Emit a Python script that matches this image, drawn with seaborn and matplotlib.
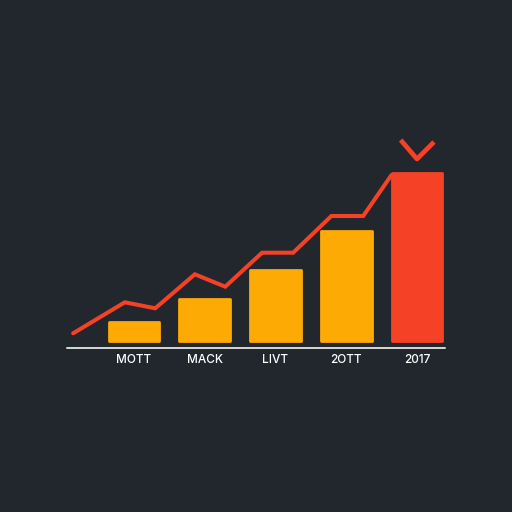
import numpy as np
import pandas as pd
import seaborn as sns
from matplotlib import pyplot as plt

# bar data
categories = ['MOTT', 'MACK', 'LIVT', '2OTT', '2017']
values = [19, 42, 71, 110, 168]
bar_colors = ['#FDAA05', '#FDAA05', '#FDAA05', '#FDAA05', '#F54227']

# trend line (x in category units)
line_x = [-0.86, -0.13, 0.30, 0.86, 1.29, 1.81, 2.25, 2.79, 3.24, 3.64]
line_y = [7.7, 38.7, 32.7, 66.7, 54.3, 88.3, 88.3, 125, 125, 166]

# chevron above the last bar
chev_x = [3.77, 4.0, 4.24]
chev_y = [201, 182, 199]

BG = '#22272E'

sns.set_theme(style='dark')
plt.rcParams['font.family'] = ['Inter', 'DejaVu Sans']

df = pd.DataFrame({'cat': categories, 'val': values})

fig = plt.figure(figsize=(5.12, 5.12), dpi=100, facecolor=BG)
ax = fig.add_axes([0, 0, 1, 1])
ax.set_facecolor(BG)

sns.barplot(data=df, x='cat', y='val', hue='cat', palette=bar_colors,
            legend=False, width=0.72, saturation=1, ax=ax)
for p, c in zip(ax.patches, bar_colors):
    p.set_edgecolor(c)
    p.set_linewidth(2)
    p.set_joinstyle('round')

sns.lineplot(x=line_x, y=line_y, color='#F54227', linewidth=2.9, ax=ax,
             sort=False)
ax.lines[-1].set_solid_joinstyle('miter')
ax.plot(chev_x, chev_y, color='#F54227', linewidth=3.4, solid_capstyle='butt')

# baseline axis
ax.plot([-0.95, 4.40], [-7, -7], color='#D8D8D8', linewidth=1.4)

for i, lab in enumerate(categories):
    ax.text(i, -19, lab, color='white', ha='center', va='center',
            fontsize=8.5, fontweight='medium')

ax.set_xlim(-1.894, 5.343)
ax.set_ylim(-171, 341)
ax.set_axis_off()

fig.savefig('out.png', dpi=100, facecolor=BG)
